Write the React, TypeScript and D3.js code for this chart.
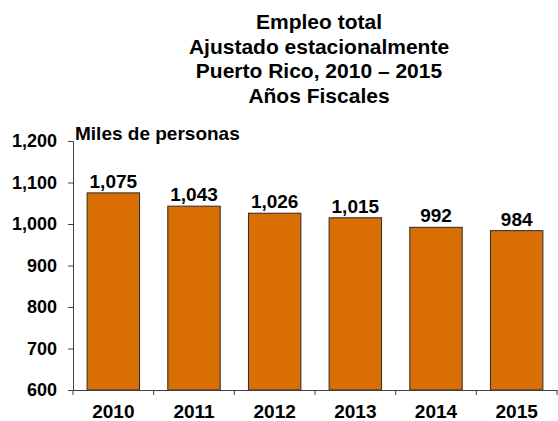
import React, { useRef, useEffect } from 'react';
import * as d3 from 'd3';

const years = ['2010', '2011', '2012', '2013', '2014', '2015'];
const empleo = [1075, 1043, 1026, 1015, 992, 984];
const yTicks = [600, 700, 800, 900, 1000, 1100, 1200];
const titleLines = ['Empleo total', 'Ajustado estacionalmente', 'Puerto Rico, 2010 – 2015', 'Años Fiscales'];

const width = 558;
const height = 421;
const margin = { top: 141, right: 1, bottom: 31, left: 73 };
const font = 'Arial, "Liberation Sans", sans-serif';

const App = () => {
  const chartRef = useRef<SVGSVGElement>(null);

  useEffect(() => {
    document.body.style.margin = '0';
    const root = d3.select(chartRef.current);
    root.selectAll('*').remove();
    root.attr('width', width).attr('height', height).style('display', 'block');

    const svg = root.append('g').attr('transform', `translate(${margin.left}, ${margin.top})`);
    const innerW = width - margin.left - margin.right;
    const innerH = height - margin.top - margin.bottom;

    // scales
    const xScale = d3.scaleBand().domain(years).range([0, innerW]).paddingInner(0.35).paddingOuter(0.175);
    const xCat = d3.scaleBand().domain(years).range([0, innerW]);
    const yScale = d3.scaleLinear().domain([600, 1200]).range([innerH, 0]);

    // title
    root
      .append('g')
      .selectAll('text')
      .data(titleLines)
      .enter()
      .append('text')
      .attr('x', 319)
      .attr('y', (d, i) => 29 + i * 24.5)
      .attr('text-anchor', 'middle')
      .attr('font-family', font)
      .attr('font-weight', 'bold')
      .attr('font-size', 21)
      .attr('fill', '#000')
      .text((d) => d);

    // bars
    svg
      .append('g')
      .selectAll('rect')
      .data(empleo)
      .enter()
      .append('rect')
      .attr('x', (d, i) => xScale(years[i]) as number)
      .attr('y', (d) => yScale(d))
      .attr('width', xScale.bandwidth())
      .attr('height', (d) => innerH - yScale(d))
      .attr('fill', '#D96F04')
      .attr('stroke', '#2a2a2a')
      .attr('stroke-width', 1);

    // value labels
    svg
      .append('g')
      .selectAll('text')
      .data(empleo)
      .enter()
      .append('text')
      .attr('x', (d, i) => (xScale(years[i]) as number) + xScale.bandwidth() / 2)
      .attr('y', (d) => yScale(d) - 5)
      .attr('text-anchor', 'middle')
      .attr('font-family', font)
      .attr('font-weight', 'bold')
      .attr('font-size', 19)
      .text((d) => d3.format(',')(d));

    // y axis
    const yAxis = svg
      .append('g')
      .call(d3.axisLeft(yScale).tickValues(yTicks).tickSize(5).tickPadding(11).tickFormat(d3.format(',')));
    yAxis.select('.domain').attr('stroke', '#404040');
    yAxis.selectAll('line').attr('stroke', '#404040');
    yAxis
      .selectAll('text')
      .attr('font-family', font)
      .attr('font-weight', 'bold')
      .attr('font-size', 18)
      .attr('fill', '#000');

    // x axis
    const xAxis = svg
      .append('g')
      .attr('transform', `translate(0, ${innerH})`)
      .call(d3.axisBottom(xCat).tickSize(0).tickPadding(15));
    xAxis.select('.domain').attr('stroke', '#404040');
    xAxis
      .selectAll('text')
      .attr('font-family', font)
      .attr('font-weight', 'bold')
      .attr('font-size', 19)
      .attr('dy', '0.7em')
      .attr('fill', '#000');

    // category separator ticks
    svg
      .append('g')
      .selectAll('line')
      .data(years.concat(['end']))
      .enter()
      .append('line')
      .attr('x1', (d, i) => (i < years.length ? (xCat(d) as number) : innerW))
      .attr('x2', (d, i) => (i < years.length ? (xCat(d) as number) : innerW))
      .attr('y1', innerH)
      .attr('y2', innerH + 5)
      .attr('stroke', '#404040');

    // unit label
    svg
      .append('text')
      .attr('x', 2)
      .attr('y', -1)
      .attr('font-family', font)
      .attr('font-weight', 'bold')
      .attr('font-size', 19)
      .text('Miles de personas');
  }, []);

  return <svg ref={chartRef}></svg>;
};

export default App;
